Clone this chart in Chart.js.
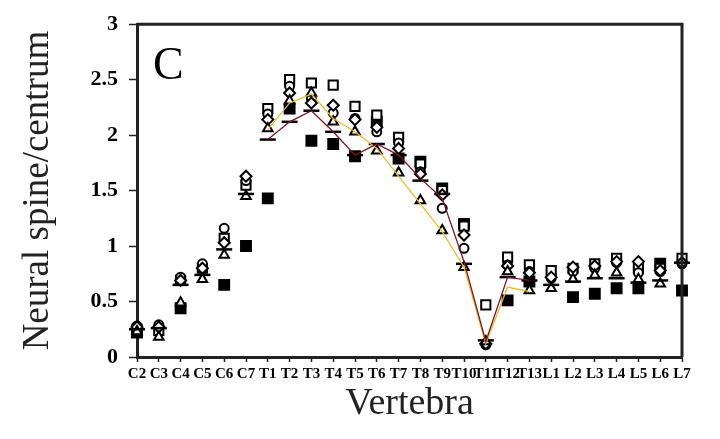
<!DOCTYPE html>
<html>
<head>
<meta charset="utf-8">
<script src="https://cdn.jsdelivr.net/npm/chart.js@4"></script>
<style>
  html, body { margin: 0; padding: 0; background: #fff; }
  #wrap { width: 720px; height: 439px; }
</style>
</head>
<body>
<div id="wrap"><canvas id="chart" width="720" height="439"></canvas></div>
<script>
  // categories along the x axis
  const vertebrae = ['C2', 'C3', 'C4', 'C5', 'C6', 'C7', 'T1', 'T2', 'T3', 'T4', 'T5', 'T6', 'T7',
    'T8', 'T9', 'T10', 'T11', 'T12', 'T13', 'L1', 'L2', 'L3', 'L4', 'L5', 'L6', 'L7'];
  const yTicks = [0, 0.5, 1, 1.5, 2, 2.5, 3];

  // marker series
  const filledSquare = [0.22, null, 0.44, null, 0.65, 1.00, 1.43, 2.24, 1.95, 1.92, 1.81, 2.12, 1.79,
    1.76, 1.52, 1.20, null, 0.51, 0.68, null, 0.54, 0.57, 0.62, 0.62, 0.84, 0.60];
  const openSquare = [0.25, 0.24, 0.69, 0.80, 1.07, 1.55, 2.24, 2.50, 2.47, 2.45, 2.26, 2.18, 1.98,
    1.74, 1.50, 1.18, 0.47, 0.90, 0.83, 0.78, 0.80, 0.84, 0.89, 0.80, 0.80, 0.89];
  const openCircle = [0.28, 0.29, 0.72, 0.84, 1.16, 1.59, 2.19, 2.44, 2.33, 2.20, 2.15, 2.03, 1.93,
    1.67, 1.34, 0.98, 0.11, 0.83, 0.77, 0.71, 0.77, 0.80, 0.85, 0.76, 0.77, 0.84];
  const openDiamond = [0.27, 0.27, 0.69, 0.80, 1.03, 1.63, 2.14, 2.38, 2.29, 2.27, 2.14, 2.07, 1.88,
    1.65, 1.46, 1.10, 0.12, 0.82, 0.76, 0.72, 0.81, 0.82, 0.86, 0.86, 0.78, 0.85];
  const openTriangle = [0.23, 0.18, 0.49, 0.70, 0.92, 1.45, 2.06, 2.31, 2.38, 2.12, 2.03, 1.86, 1.66,
    1.41, 1.14, 0.81, 0.14, 0.77, 0.60, 0.62, 0.70, 0.74, 0.76, 0.70, 0.66, null];
  const dashMark = [0.25, 0.26, 0.65, 0.74, 0.97, 1.47, 1.96, 2.12, 2.22, 2.03, 1.82, 1.92, 1.82,
    1.59, 1.47, 0.84, 0.15, 0.72, 0.69, 0.65, 0.68, 0.71, 0.71, 0.67, 0.69, 0.85];

  // the two trend lines through the thoracic region
  const redLine = [null, null, null, null, null, null, 1.96, 2.12, 2.22, 2.03, 1.82, 1.92, 1.82,
    1.61, 1.43, 0.86, 0.14, 0.72, 0.69, null, null, null, null, null, null, null];
  const yellowLine = [null, null, null, null, null, null, 2.05, 2.29, 2.37, 2.15, 2.03, 1.88, 1.63,
    1.38, 1.13, 0.81, 0.12, 0.63, 0.59, null, null, null, null, null, null, null];

  const serif = '"Liberation Serif", "Times New Roman", serif';

  function marker(data, style, radius, filled, width) {
    return {
      type: 'line',
      data: data,
      showLine: false,
      clip: false,
      pointStyle: style,
      pointRadius: radius,
      pointHoverRadius: radius,
      pointBorderColor: '#000',
      pointBackgroundColor: filled ? '#000' : '#fff',
      pointBorderWidth: width || 2
    };
  }

  function trend(data, color) {
    return {
      type: 'line',
      data: data,
      borderColor: color,
      borderWidth: 1.3,
      pointRadius: 0,
      fill: false,
      tension: 0,
      spanGaps: false,
      clip: false
    };
  }

  // box on top/right and the panel letter
  const framePlugin = {
    id: 'frame',
    afterDraw(chart) {
      const { ctx, chartArea: a } = chart;
      ctx.save();
      ctx.strokeStyle = '#222';
      ctx.lineWidth = 3;
      ctx.beginPath();
      ctx.moveTo(a.left, a.top);
      ctx.lineTo(a.right, a.top);
      ctx.lineTo(a.right, a.bottom);
      ctx.stroke();
      ctx.fillStyle = '#000';
      ctx.font = '46px ' + serif;
      ctx.textBaseline = 'alphabetic';
      ctx.fillText('C', 153, 79);
      ctx.restore();
    }
  };

  new Chart(document.getElementById('chart'), {
    data: {
      labels: vertebrae,
      datasets: [
        trend(redLine, '#7b1426'),
        trend(yellowLine, '#e8bd2a'),
        marker(dashMark, 'line', 8, false, 2.5),
        marker(openTriangle, 'triangle', 5.5, false),
        marker(openDiamond, 'rectRot', 5.5, false),
        marker(openCircle, 'circle', 4.5, false),
        marker(openSquare, 'rect', 6.5, false),
        marker(filledSquare, 'rect', 7, true)
      ]
    },
    options: {
      responsive: false,
      animation: false,
      layout: { padding: { top: 24, right: 38, left: 0, bottom: 0 } },
      plugins: {
        legend: { display: false },
        tooltip: { enabled: false }
      },
      scales: {
        x: {
          type: 'category',
          offset: false,
          border: { color: '#222', width: 3 },
          grid: { drawOnChartArea: false, drawTicks: true, tickLength: 5, tickColor: '#222', tickWidth: 1.5 },
          ticks: {
            autoSkip: false,
            maxRotation: 0,
            minRotation: 0,
            padding: 3,
            color: '#000',
            font: { family: serif, size: 15, weight: 'bold' }
          },
          title: {
            display: true,
            text: 'Vertebra',
            color: '#222',
            font: { family: serif, size: 38 },
            padding: { top: 0, bottom: 12 }
          },
          afterFit(scale) { scale.height = 82; }
        },
        y: {
          min: 0,
          max: 3,
          border: { color: '#222', width: 3 },
          grid: { drawOnChartArea: false, drawTicks: true, tickLength: 8, tickColor: '#222', tickWidth: 1.5 },
          afterBuildTicks(scale) { scale.ticks = yTicks.map(v => ({ value: v })); },
          ticks: {
            padding: 11,
            color: '#000',
            font: { family: serif, size: 22, weight: 'bold' },
            callback: v => String(v)
          },
          title: {
            display: true,
            text: 'Neural spine/centrum',
            color: '#222',
            font: { family: serif, size: 37 },
            padding: { top: 16, bottom: 0 }
          },
          afterFit(scale) { scale.width = 137; }
        }
      }
    },
    plugins: [framePlugin]
  });
</script>
</body>
</html>
